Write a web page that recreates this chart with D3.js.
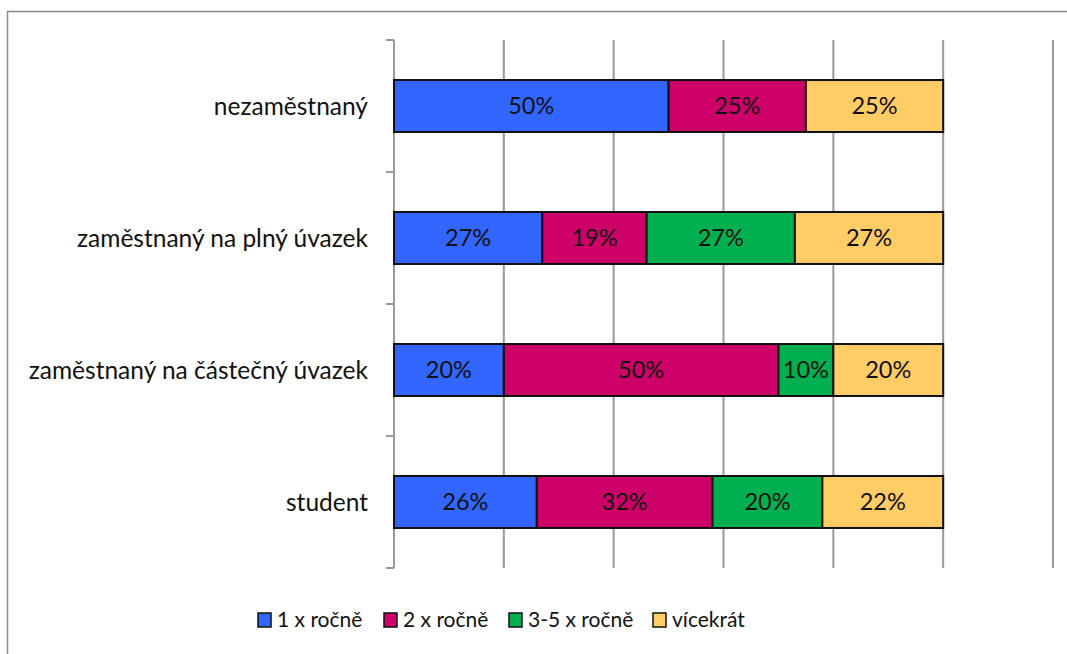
<html>

<head>
	<meta charset="utf-8">
	<script src="https://d3js.org/d3.v7.min.js"></script>
	<style>
		body { margin: 0; background: #fff; }
		text { font-family: Lato, "Open Sans", sans-serif; }
	</style>
</head>

<body>
	<svg width="1067" height="654"></svg>
	<script>
		// categories top to bottom
		var categories = ["nezaměstnaný", "zaměstnaný na plný úvazek", "zaměstnaný na částečný úvazek", "student"];
		var seriesNames = ["1 x ročně", "2 x ročně", "3-5 x ročně", "vícekrát"];
		var colors = ["#3366ff", "#cc0066", "#00b050", "#ffcc66"];

		// percent values per series, same order as categories
		var once = [50, 27, 20, 26];
		var twice = [25, 19, 50, 32];
		var threeToFive = [0, 27, 10, 20];
		var more = [25, 27, 20, 22];

		var gridTicks = [0, 20, 40, 60, 80, 100, 120];

		var data = categories.map(function (c, i) {
			return { cat: c, s0: once[i], s1: twice[i], s2: threeToFive[i], s3: more[i] };
		});
		var keys = ["s0", "s1", "s2", "s3"];
		var series = d3.stack().keys(keys)(data);

		var svg = d3.select("svg");
		var plotLeft = 394, plotRight = 1053, plotTop = 40, plotBottom = 568;

		// outer frame
		svg.append("rect")
			.attr("x", 7.5).attr("y", 11.5)
			.attr("width", 1100).attr("height", 700)
			.attr("fill", "none")
			.attr("stroke", "#8c8c8c")
			.attr("stroke-width", 1.5);

		var x = d3.scaleLinear().domain([0, 120]).range([plotLeft, plotRight]);
		var y = d3.scaleBand().domain(categories).range([plotTop, plotBottom])
			.paddingInner(0.606).paddingOuter(0.303);

		// vertical gridlines
		svg.append("g")
			.selectAll("line")
			.data(gridTicks.slice(1))
			.enter().append("line")
			.attr("x1", function (d) { return x(d); })
			.attr("x2", function (d) { return x(d); })
			.attr("y1", plotTop).attr("y2", plotBottom)
			.attr("stroke", "#999")
			.attr("stroke-width", 2);

		// category axis line + ticks at band boundaries
		var step = y.step();
		var boundaries = d3.range(categories.length + 1).map(function (i) { return plotTop + i * step; });
		svg.append("line")
			.attr("x1", plotLeft).attr("x2", plotLeft)
			.attr("y1", plotTop).attr("y2", plotBottom)
			.attr("stroke", "#999").attr("stroke-width", 2);
		svg.append("g")
			.selectAll("line")
			.data(boundaries)
			.enter().append("line")
			.attr("x1", plotLeft - 8).attr("x2", plotLeft)
			.attr("y1", function (d) { return d; })
			.attr("y2", function (d) { return d; })
			.attr("stroke", "#999").attr("stroke-width", 2);

		// bars
		var groups = svg.append("g")
			.selectAll("g")
			.data(series)
			.enter().append("g")
			.attr("fill", function (d, i) { return colors[i]; });

		groups.selectAll("rect")
			.data(function (d) { return d.filter(function (v) { return v[1] > v[0]; }); })
			.enter().append("rect")
			.attr("x", function (d) { return x(d[0]); })
			.attr("y", function (d) { return y(d.data.cat); })
			.attr("width", function (d) { return x(d[1]) - x(d[0]); })
			.attr("height", y.bandwidth())
			.attr("stroke", "#111")
			.attr("stroke-width", 2);

		groups.selectAll("text")
			.data(function (d) { return d.filter(function (v) { return v[1] > v[0]; }); })
			.enter().append("text")
			.attr("x", function (d) { return (x(d[0]) + x(d[1])) / 2; })
			.attr("y", function (d) { return y(d.data.cat) + y.bandwidth() / 2; })
			.attr("dy", "0.35em")
			.attr("text-anchor", "middle")
			.attr("font-size", 23.5)
			.attr("fill", "#111")
			.text(function (d) { return Math.round(d[1] - d[0]) + "%"; });

		// category labels
		svg.append("g")
			.selectAll("text")
			.data(categories)
			.enter().append("text")
			.attr("x", 368)
			.attr("y", function (d) { return y(d) + y.bandwidth() / 2; })
			.attr("dy", "0.35em")
			.attr("text-anchor", "end")
			.attr("font-size", 24.5)
			.attr("fill", "#111")
			.text(function (d) { return d; });

		// legend
		var legendX = [258, 384, 509, 653];
		var legend = svg.append("g")
			.selectAll("g")
			.data(seriesNames)
			.enter().append("g")
			.attr("transform", function (d, i) { return "translate(" + legendX[i] + ",613)"; });
		legend.append("rect")
			.attr("width", 13).attr("height", 14)
			.attr("fill", function (d, i) { return colors[i]; })
			.attr("stroke", "#111").attr("stroke-width", 1.5);
		legend.append("text")
			.attr("x", 19).attr("y", 7)
			.attr("dy", "0.35em")
			.attr("font-size", 21)
			.attr("fill", "#111")
			.text(function (d) { return d; });
	</script>
</body>

</html>
